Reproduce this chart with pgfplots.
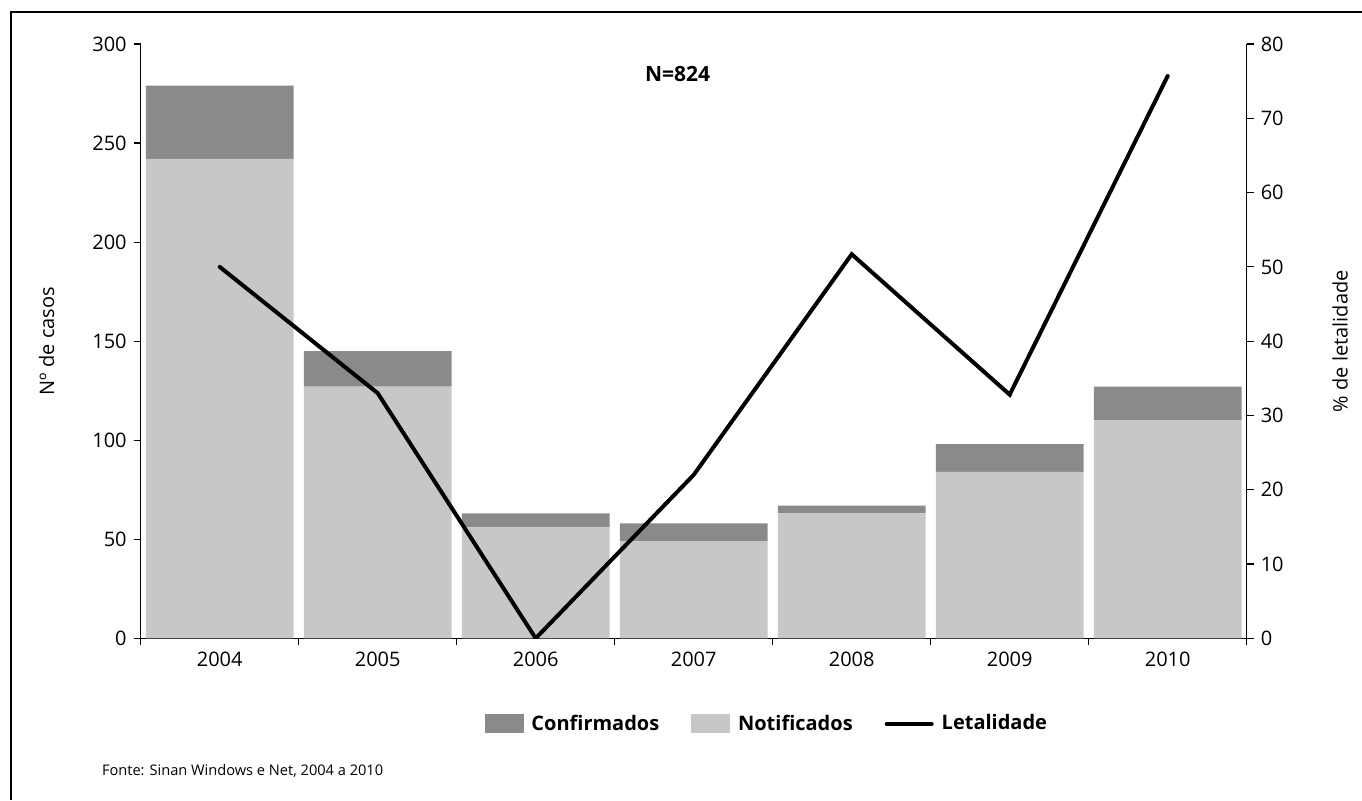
\documentclass[border=0pt]{standalone}
\usepackage{fontspec}
\setmainfont{Open Sans}
\usepackage{pgfplots}
\pgfplotsset{compat=1.18}
\definecolor{conf}{HTML}{898A8C}
\definecolor{notif}{HTML}{C6C7C9}
\begin{document}
\begin{tikzpicture}
\path[use as bounding box] (0,0) rectangle (681pt,400pt);
\draw[line width=0.6pt] (5.5pt,0) -- (5.5pt,394pt) -- (681pt,394pt);
\begin{axis}[
  at={(70.35pt,80.85pt)}, anchor=south west,
  scale only axis, width=553pt, height=297.15pt,
  xmin=-0.5, xmax=6.5, ymin=0, ymax=300, enlargelimits=false,
  axis y line*=left, axis x line*=bottom,
  axis line style={-, line width=0.6pt},
  ytick={0,50,...,300},
  xtick={-0.5,0.5,...,6.5},
  x tick label as interval,
  xticklabels={2004,2005,2006,2007,2008,2009,2010},
  tick align=outside, major tick length=3.5pt,
  tick style={black, line width=0.6pt},
  /pgf/number format/assume math mode=true,
  tick label style={font=\fontsize{10}{12}\selectfont},
  ylabel={Nº de casos},
  ylabel style={font=\fontsize{10}{12}\selectfont, at={(axis description cs:-0.085,0.5)}, anchor=center},
  ybar stacked, bar width=0.935,
]
\addplot[fill=notif, draw=none] coordinates {(0,242) (1,127) (2,56) (3,49) (4,63) (5,84) (6,110)};
\addplot[fill=conf, draw=none] coordinates {(0,37) (1,18) (2,7) (3,9) (4,4) (5,14) (6,17)};
\node[font=\bfseries\fontsize{10.5}{12}\selectfont] at (rel axis cs:0.4855,0.9495) {N=824};
\end{axis}
\begin{axis}[
  at={(70.35pt,80.85pt)}, anchor=south west,
  scale only axis, width=553pt, height=297.15pt,
  xmin=-0.5, xmax=6.5, ymin=0, ymax=80, enlargelimits=false,
  axis y line*=right, axis x line=none,
  axis line style={-, line width=0.6pt},
  ytick={0,10,...,80},
  tick align=outside, major tick length=3.5pt,
  tick style={black, line width=0.6pt},
  /pgf/number format/assume math mode=true,
  tick label style={font=\fontsize{10}{12}\selectfont},
  ylabel={\% de letalidade},
  ylabel style={font=\fontsize{10}{12}\selectfont, at={(axis description cs:1.0845,0.5)}, anchor=center},
  legend columns=3,
  legend style={draw=none, fill=none, at={(0.567,-0.144)}, anchor=center,
    font=\bfseries\fontsize{10}{12}\selectfont,
    /tikz/every odd column/.append style={column sep=2pt},
    /tikz/every even column/.append style={column sep=14pt}},
]
\addlegendimage{legend image code/.code={\fill[conf] (0pt,-4.5pt) rectangle (19pt,4.5pt);}}
\addlegendentry{Confirmados}
\addlegendimage{legend image code/.code={\fill[notif] (0pt,-4.5pt) rectangle (19pt,4.5pt);}}
\addlegendentry{Notificados}
\addplot[black, line width=2pt, line cap=round,
  legend image code/.code={\draw[black, line width=2pt, line cap=round] (0pt,0pt) -- (22.5pt,0pt);}]
  coordinates {(0,50) (1,33) (2,0) (3,22) (4,51.7) (5,32.8) (6,75.7)};
\addlegendentry{Letalidade}
\end{axis}
\node[anchor=west, font=\fontsize{7.3}{9}\selectfont] at (47.5pt,14.5pt) {Fonte: Sinan Windows e Net, 2004 a 2010};
\end{tikzpicture}
\end{document}
